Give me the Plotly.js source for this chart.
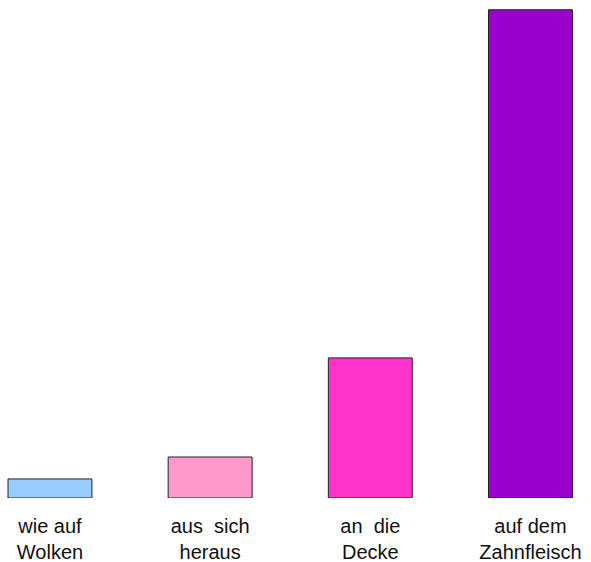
<!DOCTYPE html>
<html>
<head>
<meta charset="utf-8">
<script src="https://cdn.plot.ly/plotly-3.0.1.min.js"></script>
<style>html,body{margin:0;padding:0;background:#fff;}#chart{width:591px;height:562px;}</style>
</head>
<body>
<div id="chart"></div>
<script>
const categories = ["wie auf<br>Wolken", "aus\u00a0\u00a0sich<br>heraus", "an\u00a0\u00a0die<br>Decke", "auf dem<br>Zahnfleisch"];
const values = [3.9, 8.4, 28.7, 100];
const colors = ["#99ccff", "#ff99cc", "#ff33cc", "#9900cc"];

const trace = {
  type: "bar",
  x: categories,
  y: values,
  width: 0.524,
  marker: {color: colors, line: {color: "#222222", width: 1}},
  hoverinfo: "skip"
};

const layout = {
  width: 591,
  height: 562,
  margin: {l: 0, r: 0, t: 0, b: 64},
  paper_bgcolor: "#ffffff",
  plot_bgcolor: "#ffffff",
  showlegend: false,
  font: {family: "Liberation Sans, Arial, sans-serif", size: 20, color: "#111111"},
  xaxis: {
    type: "category",
    range: [-0.312, 3.378],
    showgrid: false, zeroline: false, showline: false, ticks: "",
    tickfont: {size: 20},
    ticklabelstandoff: 14
  },
  yaxis: {
    range: [0, 102],
    visible: false, showgrid: false, zeroline: false
  }
};

Plotly.newPlot("chart", [trace], layout, {staticPlot: true, displayModeBar: false});
</script>
</body>
</html>
